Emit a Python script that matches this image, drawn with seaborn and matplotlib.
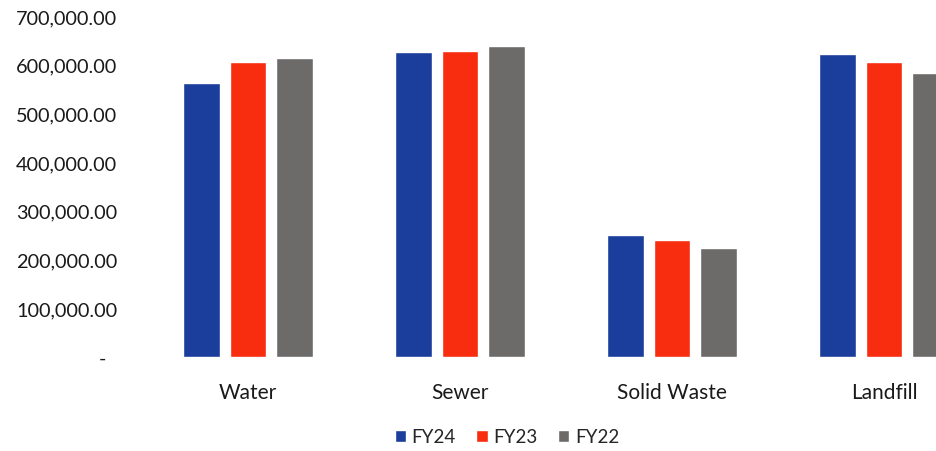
import matplotlib
matplotlib.use("Agg")
from matplotlib import pyplot as plt
from matplotlib.ticker import FuncFormatter
import seaborn as sns
import pandas as pd

##################### Data #################################
categories = ["Water", "Sewer", "Solid Waste", "Landfill"]
years = ["FY24", "FY23", "FY22"]
fy24 = [563000, 627000, 250000, 621000]
fy23 = [606000, 629000, 240000, 606000]
fy22 = [613000, 639000, 223000, 584000]
colors = ["#1b3d9b", "#f82c0f", "#6d6a6a"]

df = pd.DataFrame({
    "category": categories * 3,
    "year": [y for y in years for _ in categories],
    "value": fy24 + fy23 + fy22,
})

##################### Plot #################################
sns.set_style("white")
plt.rcParams["font.family"] = ["Lato", "DejaVu Sans"]

fig = plt.figure(figsize=(9.36, 4.52), dpi=100)
# the source picture is cropped on the right, so the axes runs past the figure edge
ax = fig.add_axes([142 / 936, 94 / 452, 848 / 936, 341 / 452])

sns.barplot(data=df, x="category", y="value", hue="year", order=categories,
            hue_order=years, palette=colors, width=0.66, gap=0.22,
            saturation=1, ax=ax, legend=True)

ax.set_ylim(0, 700000)
ax.set_yticks(range(0, 700001, 100000))
ax.yaxis.set_major_formatter(FuncFormatter(
    lambda v, p: "-  " if v == 0 else f"{v:,.2f}"))
ax.set_xlim(-0.5, 3.5)
ax.set_xlabel("")
ax.set_ylabel("")
ax.tick_params(axis="y", length=0, pad=18, labelsize=14.3, labelcolor="#1a1a1a")
ax.tick_params(axis="x", length=0, pad=18, labelsize=15, labelcolor="#1a1a1a")
sns.despine(ax=ax, left=True, bottom=True)

handles, labels = ax.get_legend_handles_labels()
ax.get_legend().remove()
fig.legend(handles, labels, loc="center", bbox_to_anchor=(507 / 936, 1 - 438 / 452),
           ncol=3, frameon=False, fontsize=13.5, handlelength=0.6, handleheight=0.6,
           handletextpad=0.3, columnspacing=1.1)

plt.savefig("out.png", dpi=100)
